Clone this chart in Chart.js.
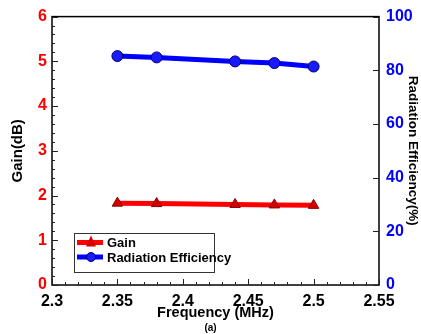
<!DOCTYPE html>
<html>
<head>
<meta charset="utf-8">
<script src="https://cdn.jsdelivr.net/npm/chart.js@4.4.0/dist/chart.umd.min.js"></script>
<style>
html,body{margin:0;padding:0;background:#fff;}
#wrap{position:relative;width:421px;height:334px;}
</style>
</head>
<body>
<div id="wrap"><canvas id="c" width="421" height="334"></canvas></div>
<script>
const frequencies = [2.35, 2.38, 2.44, 2.47, 2.5];
const gainValues = [1.83, 1.82, 1.80, 1.79, 1.78];
const efficiencyValues = [85.3, 84.8, 83.3, 82.7, 81.4];
const seriesNames = ["Gain", "Radiation Efficiency"];
const xTitle = "Frequency (MHz)";
const yLeftTitle = "Gain(dB)";
const yRightTitle = "Radiation Efficiency(%)";
const caption = "(a)";

const FONT = "'Liberation Sans', Arial, sans-serif";

const framePlugin = {
  id: 'frame',
  afterDatasetsDraw(chart) {
    const {ctx, chartArea: a, scales} = chart;
    ctx.save();
    ctx.strokeStyle = '#000';
    ctx.lineWidth = 1.5;
    ctx.strokeRect(a.left, a.top, a.right - a.left, a.bottom - a.top);
    ctx.lineWidth = 1;
    ctx.strokeStyle = '#222';
    for (let i = 0; i <= 25; i++) {
      const v = 2.3 + i * 0.01;
      const px = Math.round(scales.x.getPixelForValue(v)) + 0.5;
      const len = (i % 5 === 0) ? 6 : 3;
      ctx.beginPath(); ctx.moveTo(px, a.bottom); ctx.lineTo(px, a.bottom - len); ctx.stroke();
    }
    for (let i = 0; i <= 30; i++) {
      const v = i * 0.2;
      const py = Math.round(scales.y.getPixelForValue(v)) + 0.5;
      const len = (i % 5 === 0) ? 6 : 3;
      ctx.beginPath(); ctx.moveTo(a.left, py); ctx.lineTo(a.left + len, py); ctx.stroke();
    }
    for (let i = 0; i <= 5; i++) {
      const v = i * 20;
      const py = Math.round(scales.y1.getPixelForValue(v)) + 0.5;
      ctx.beginPath(); ctx.moveTo(a.right, py); ctx.lineTo(a.right - 6, py); ctx.stroke();
    }
    // legend box
    const lx = 74, ly = 233, lw = 140, lh = 39;
    ctx.fillStyle = '#fff';
    ctx.fillRect(lx, ly, lw, lh);
    ctx.strokeStyle = '#333';
    ctx.lineWidth = 1;
    ctx.strokeRect(lx + 0.5, ly + 0.5, lw, lh);
    const items = [
      {name: seriesNames[0], color: '#ff0000', style: 'triangle', y: ly + 9.5},
      {name: seriesNames[1], color: '#0000ff', style: 'circle', y: ly + 24}
    ];
    items.forEach(it => {
      ctx.strokeStyle = it.color;
      ctx.lineWidth = 5;
      ctx.beginPath(); ctx.moveTo(77, it.y); ctx.lineTo(103, it.y); ctx.stroke();
      if (it.style === 'triangle') {
        ctx.fillStyle = '#d40000';
        ctx.beginPath(); ctx.moveTo(91, it.y - 7); ctx.lineTo(96, it.y + 4); ctx.lineTo(86, it.y + 4); ctx.closePath(); ctx.fill();
      } else {
        ctx.fillStyle = '#1a1aff';
        ctx.strokeStyle = '#00007a'; ctx.lineWidth = 1;
        ctx.beginPath(); ctx.arc(91, it.y, 4.5, 0, Math.PI * 2); ctx.fill(); ctx.stroke();
      }
      ctx.fillStyle = '#000';
      ctx.font = 'bold 13px ' + FONT;
      ctx.textBaseline = 'middle';
      ctx.textAlign = 'left';
      ctx.fillText(it.name, 107, it.y + 1);
    });
    ctx.restore();
  }
};

new Chart(document.getElementById('c'), {
  type: 'line',
  data: {
    datasets: [
      {
        label: seriesNames[0],
        data: frequencies.map((f, i) => ({x: f, y: gainValues[i]})),
        yAxisID: 'y',
        borderColor: '#ff0000',
        backgroundColor: '#d40000',
        pointBorderColor: '#8a0000',
        pointBorderWidth: 1,
        borderWidth: 5,
        pointStyle: 'triangle',
        pointRadius: 6,
        tension: 0
      },
      {
        label: seriesNames[1],
        data: frequencies.map((f, i) => ({x: f, y: efficiencyValues[i]})),
        yAxisID: 'y1',
        borderColor: '#0000ff',
        backgroundColor: '#1a1aff',
        pointBorderColor: '#00006a',
        pointBorderWidth: 1,
        borderWidth: 5,
        pointStyle: 'circle',
        pointRadius: 5.5,
        tension: 0
      }
    ]
  },
  options: {
    responsive: false,
    animation: false,
    layout: {padding: {top: 13, left: 0, right: 0, bottom: 0}},
    plugins: {
      legend: {display: false},
      tooltip: {enabled: false},
      title: {
        display: true, position: 'bottom', text: caption,
        color: '#000', font: {family: FONT, size: 10}, padding: {top: 0, bottom: 0}
      }
    },
    scales: {
      x: {
        type: 'linear', min: 2.3, max: 2.55,
        grid: {display: false, drawTicks: false},
        border: {display: false},
        ticks: {
          stepSize: 0.05, color: '#000', padding: 7, maxRotation: 0,
          font: {family: FONT, size: 16, weight: 'bold'},
          callback: v => String(Math.round(v * 100) / 100)
        },
        title: {display: true, text: xTitle, color: '#000', font: {family: FONT, size: 14.5, weight: 'bold'}, padding: {top: 0, bottom: 0}},
        afterFit(s) { s.height = 37; }
      },
      y: {
        position: 'left', min: 0, max: 6,
        grid: {display: false, drawTicks: false},
        border: {display: false},
        ticks: {stepSize: 1, color: '#ff0000', padding: 5, font: {family: FONT, size: 16, weight: 'bold'}},
        title: {display: true, text: yLeftTitle, color: '#000', font: {family: FONT, size: 15, weight: 'bold'}, padding: {top: 9, bottom: 0}},
        afterFit(s) { s.width = 52; }
      },
      y1: {
        position: 'right', min: 0, max: 100,
        grid: {display: false, drawTicks: false},
        border: {display: false},
        ticks: {stepSize: 20, color: '#0000ff', padding: 7, font: {family: FONT, size: 16, weight: 'bold'}},
        title: {display: true, text: yRightTitle, color: '#000', font: {family: FONT, size: 13.5, weight: 'bold'}, padding: {top: 0, bottom: 0}},
        afterFit(s) { s.width = 42; }
      }
    }
  },
  plugins: [framePlugin]
});
</script>
</body>
</html>
